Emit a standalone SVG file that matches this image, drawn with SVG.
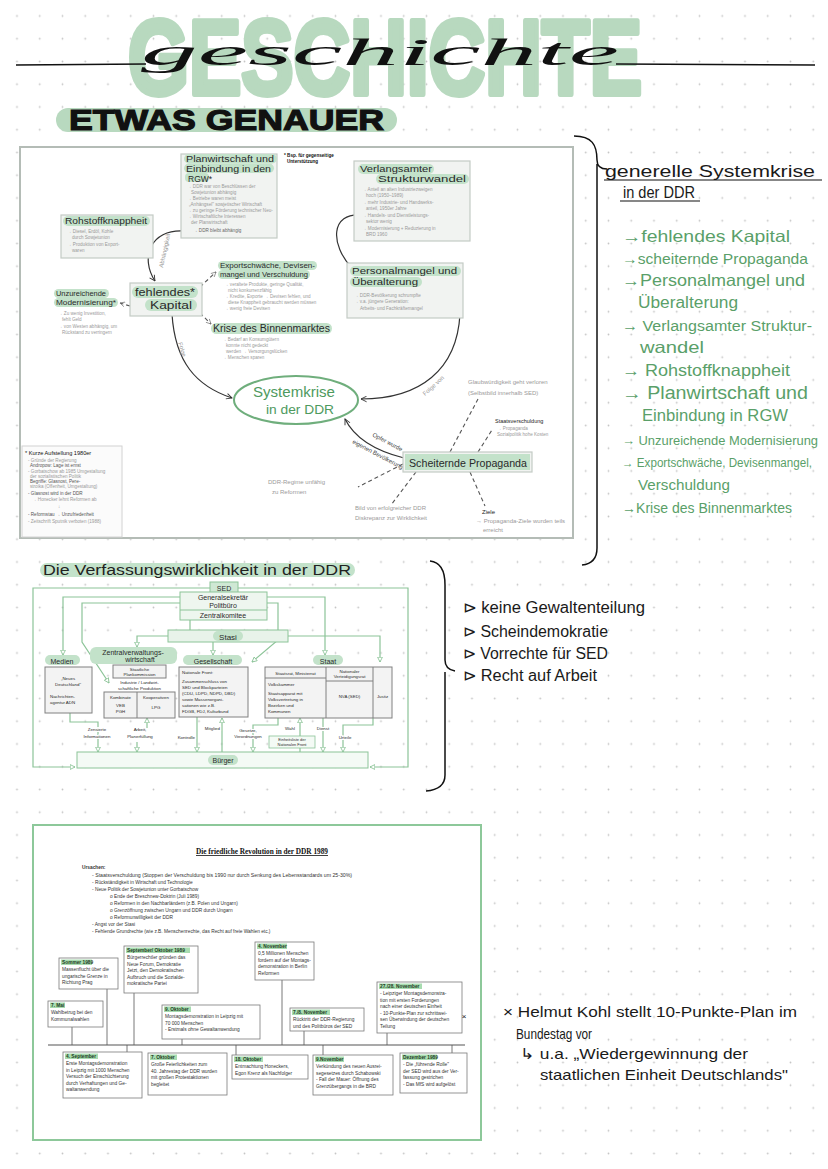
<svg xmlns="http://www.w3.org/2000/svg" width="828" height="1169" viewBox="0 0 828 1169">
<defs>
<pattern id="dots" width="22.75" height="22.75" patternUnits="userSpaceOnUse" x="5.6" y="4.6"><circle cx="11.4" cy="11.4" r="0.9" fill="#c4c4c4"/></pattern>
<marker id="chev" viewBox="0 0 10 10" refX="9" refY="5" markerWidth="7" markerHeight="7" orient="auto" markerUnits="userSpaceOnUse"><path d="M1,1 L9,5 L1,9" fill="none" stroke="#333" stroke-width="1.3"/></marker>
<marker id="chevg" viewBox="0 0 10 10" refX="9" refY="5" markerWidth="6" markerHeight="6" orient="auto" markerUnits="userSpaceOnUse"><path d="M1,1 L9,5 L1,9" fill="none" stroke="#777" stroke-width="1.2"/></marker>
<marker id="tri" viewBox="0 0 10 10" refX="9" refY="5" markerWidth="6" markerHeight="6" orient="auto" markerUnits="userSpaceOnUse"><path d="M1,1 L9,5 L1,9 Z" fill="#fff" stroke="#7fbd8c" stroke-width="1.3"/></marker>
</defs>
<style>
.gl{font-family:"Liberation Sans",Arial,sans-serif;fill:#5a9f69}
.bl{font-family:"Liberation Sans",Arial,sans-serif;fill:#1a1a1a;font-size:16px}
.hl{fill:#c3e2ca}
.nbox{fill:#f1f3f1;stroke:#c4cbc5;stroke-width:1.2}
.ttl{font-family:"Liberation Sans",Arial,sans-serif;fill:#2a2a2a;font-size:9.5px}
.sm{font-family:"Liberation Sans",Arial,sans-serif;fill:#9a9a9a;font-size:4.6px}
.lbl{font-family:"Liberation Sans",Arial,sans-serif;fill:#9a9a9a;font-size:6px}
.cur{fill:none;stroke:#333;stroke-width:1.2}
.dash{fill:none;stroke:#555;stroke-width:1.1;stroke-dasharray:4 3}
.gline{fill:none;stroke:#8cc498;stroke-width:1.2}
.mbox{fill:#f3f3f3;stroke:#808080;stroke-width:1}
.mt{font-family:"Liberation Sans",Arial,sans-serif;fill:#2a2a2a;font-size:4.4px}
.mlab{font-family:"Liberation Sans",Arial,sans-serif;fill:#2a2a2a;font-size:7px;text-anchor:middle}
.halo{paint-order:stroke;stroke:#fff;stroke-width:2}
.tbox{fill:#fff;stroke:#7a7a7a;stroke-width:0.8}
.th{font-family:"Liberation Sans",Arial,sans-serif;font-weight:bold;fill:#1e3d24;font-size:4.8px}
.thl{fill:#a8dcb0}
.tt{font-family:"Liberation Sans",Arial,sans-serif;fill:#333;font-size:4.8px}
.tick{stroke:#555;stroke-width:0.8}
</style>
<rect width="828" height="1169" fill="#fff"/>
<rect width="828" height="1169" fill="url(#dots)"/>

<!-- Title -->
<g id="title">
<text x="128" y="94" font-family="Liberation Sans, Arial, sans-serif" font-weight="bold" font-size="106" textLength="514" lengthAdjust="spacingAndGlyphs" fill="#b8d9bf" stroke="#b8d9bf" stroke-width="6" stroke-linejoin="round">GESCHICHTE</text>
<line x1="16" y1="65" x2="146" y2="64" stroke="#111" stroke-width="1.3"/>
<line x1="616" y1="64" x2="815" y2="65" stroke="#111" stroke-width="1.3"/>
<text x="141" y="65" font-family="Liberation Serif, serif" font-style="italic" font-size="38" textLength="478" lengthAdjust="spacingAndGlyphs" fill="#111">geschichte</text>
<rect x="56" y="108" width="341" height="24" rx="12" fill="#b8d9bf"/>
<text x="69" y="130" font-family="Liberation Sans, Arial, sans-serif" font-weight="bold" font-size="30" textLength="315" lengthAdjust="spacingAndGlyphs" fill="#111" stroke="#111" stroke-width="1.2">ETWAS GENAUER</text>
</g>

<!-- Top diagram frame -->
<rect id="frame-top" x="20" y="147" width="553" height="391" fill="#fff" stroke="#b4bcb6" stroke-width="2"/>

<g id="connectors-top">
<path class="cur" d="M184,231 C150,229 140,258 155,281" marker-end="url(#chev)"/>
<circle cx="184" cy="231" r="1.8" fill="#222"/>
<text class="lbl" transform="translate(163,268) rotate(-78)">Abhängigkeit</text>
<path class="cur" d="M172,314 C175,362 196,386 232,398" marker-end="url(#chev)"/>
<circle cx="172" cy="314" r="1.8" fill="#222"/>
<text class="lbl" transform="translate(178,343) rotate(72)">Folge</text>
<path class="cur" d="M352,268 C330,245 330,212 362,215" marker-end="url(#chev)"/>
<circle cx="352" cy="268" r="1.8" fill="#222"/>
<path class="cur" d="M460,314 C457,370 420,399 361,399" marker-end="url(#chev)"/>
<circle cx="460" cy="314" r="1.8" fill="#222"/>
<text class="lbl" transform="translate(425,396) rotate(-42)">Folge von</text>
<path class="cur" d="M404,458 C380,452 356,441 345,419" marker-end="url(#chev)"/>
<text class="lbl" style="fill:#444" transform="translate(372,436) rotate(28)">Opfer wurde</text>
<text class="lbl" style="fill:#444" transform="translate(352,443) rotate(28)">eigenen Bevölkerung</text>
<path class="dash" d="M200,287 L216,272" marker-end="url(#chevg)"/>
<path class="dash" d="M200,313 L211,324" marker-end="url(#chevg)"/>
<path class="dash" d="M130,306 L120,303" marker-end="url(#chevg)"/>
<path class="dash" d="M450,452 L478,399"/>
<path class="dash" d="M478,452 L492,430"/>
<path class="dash" d="M403,464 L358,487"/>
<path class="dash" d="M416,472 L391,505"/>
<path class="dash" d="M470,472 L485,506"/>
</g>

<g id="node-planwirtschaft">
<rect class="nbox" x="181" y="154" width="96" height="84"/>
<rect class="hl" x="184" y="154" width="93" height="9.5" rx="4.75"/>
<rect class="hl" x="184" y="163.5" width="90" height="9.5" rx="4.75"/>
<rect class="hl" x="185" y="173" width="24" height="9" rx="4"/>
<text class="ttl" x="186" y="161.5" style="font-size:8.5px" textLength="88" lengthAdjust="spacingAndGlyphs">Planwirtschaft und</text>
<text class="ttl" x="186" y="171.5" style="font-size:8.5px" textLength="85" lengthAdjust="spacingAndGlyphs">Einbindung in den</text>
<text class="ttl" x="188" y="181.5" style="font-size:8.5px">RGW*</text>
<text class="sm" x="187" y="188">→ DDR war von Beschlüssen der</text>
<text class="sm" x="191" y="194">Sowjetunion abhängig</text>
<text class="sm" x="187" y="200">→ Betriebe waren meist</text>
<text class="sm" x="189" y="206">„Anhängsel" sowjetischer Wirtschaft</text>
<text class="sm" x="187" y="212">→ zu geringe Förderung technischer Neu-</text>
<text class="sm" x="187" y="218">→ Wirtschaftliche Interessen</text>
<text class="sm" x="191" y="224">der Planwirtschaft</text>
<text class="sm" x="193" y="231.5" style="fill:#666">→ DDR bleibt abhängig</text>
</g>
<g id="note-bsp">
<text x="284" y="157" font-family="Liberation Sans, Arial, sans-serif" font-size="4.6" font-weight="bold" fill="#111">* Bsp. für gegenseitige</text>
<text x="287" y="163" font-family="Liberation Sans, Arial, sans-serif" font-size="4.6" font-weight="bold" fill="#111">Unterstützung</text>
</g>

<g id="node-rohstoff">
<rect class="nbox" x="61" y="215" width="92" height="43"/>
<rect class="hl" x="63" y="216" width="87" height="10" rx="5"/>
<text class="ttl" x="65" y="224" textLength="82" lengthAdjust="spacingAndGlyphs">Rohstoffknappheit</text>
<text class="sm" x="67" y="233">→ Diesel, Erdöl, Kohle</text>
<text class="sm" x="72" y="239">durch Sowjetunion</text>
<text class="sm" x="67" y="246">→ Produktion von Export-</text>
<text class="sm" x="72" y="252">waren</text>
</g>

<g id="node-kapital">
<rect class="nbox" x="130" y="283" width="72" height="33"/>
<rect class="hl" x="132" y="286" width="66" height="12" rx="6"/>
<rect class="hl" x="145" y="299" width="52" height="12" rx="6"/>
<text class="ttl" x="135" y="296" style="font-size:11px" textLength="60" lengthAdjust="spacingAndGlyphs">fehlendes*</text>
<text class="ttl" x="150" y="309" style="font-size:11px" textLength="42" lengthAdjust="spacingAndGlyphs">Kapital</text>
</g>

<g id="node-modernisierung">
<rect class="hl" x="54" y="289" width="55" height="9" rx="4.5"/>
<rect class="hl" x="54" y="298" width="64" height="9" rx="4.5"/>
<text class="ttl" x="56" y="296" style="font-size:7.5px" textLength="50" lengthAdjust="spacingAndGlyphs">Unzureichende</text>
<text class="ttl" x="56" y="305" style="font-size:7.5px" textLength="60" lengthAdjust="spacingAndGlyphs">Modernisierung*</text>
<text class="sm" x="58" y="315">→ Zu wenig Investition,</text>
<text class="sm" x="62" y="321">fehlt Geld</text>
<text class="sm" x="58" y="328">→ von Westen abhängig, um</text>
<text class="sm" x="62" y="334">Rückstand zu verringern</text>
</g>

<g id="node-export">
<rect class="hl" x="218" y="261" width="99" height="9" rx="4.5"/>
<rect class="hl" x="218" y="270" width="92" height="9" rx="4.5"/>
<text class="ttl" x="220" y="268" style="font-size:8px" textLength="95" lengthAdjust="spacingAndGlyphs">Exportschwäche, Devisen-</text>
<text class="ttl" x="220" y="277" style="font-size:8px" textLength="88" lengthAdjust="spacingAndGlyphs">mangel und Verschuldung</text>
<text class="sm" x="224" y="286">→ veraltete Produkte, geringe Qualität,</text>
<text class="sm" x="228" y="292">nicht konkurrenzfähig</text>
<text class="sm" x="224" y="298">→ Kredite, Exporte → Devisen fehlen, und</text>
<text class="sm" x="228" y="304">diese Knappheit gebraucht werden müssen</text>
<text class="sm" x="224" y="310">→ wenig freie Devisen</text>
</g>

<g id="node-binnenmarkt">
<rect class="hl" x="211" y="323" width="121" height="11" rx="5.5"/>
<text class="ttl" x="213" y="332" style="font-size:10px" textLength="117" lengthAdjust="spacingAndGlyphs">Krise des Binnenmarktes</text>
<text class="sm" x="222" y="341">→ Bedarf an Konsumgütern</text>
<text class="sm" x="226" y="347">konnte nicht gedeckt</text>
<text class="sm" x="226" y="353">werden → Versorgungslücken</text>
<text class="sm" x="222" y="359">→ Menschen sparen</text>
</g>

<g id="node-strukturwandel">
<rect class="nbox" x="354" y="161" width="116" height="80"/>
<rect class="hl" x="358" y="164" width="76" height="10" rx="5"/>
<rect class="hl" x="376" y="174" width="93" height="10" rx="5"/>
<text class="ttl" x="360" y="172" style="font-size:9px" textLength="72" lengthAdjust="spacingAndGlyphs">Verlangsamter</text>
<text class="ttl" x="378" y="182" style="font-size:9px" textLength="88" lengthAdjust="spacingAndGlyphs">Strukturwandel</text>
<text class="sm" x="362" y="191">→ Anteil an alten Industriezweigen</text>
<text class="sm" x="366" y="197">hoch (1950–1989)</text>
<text class="sm" x="362" y="204">→ mehr Industrie- und Handwerks-</text>
<text class="sm" x="366" y="210">anteil, 1950er Jahre</text>
<text class="sm" x="362" y="217">→ Handels- und Dienstleistungs-</text>
<text class="sm" x="366" y="223">sektor wenig</text>
<text class="sm" x="362" y="230">→ Modernisierung + Reduzierung in</text>
<text class="sm" x="366" y="236">BRD 1960</text>
</g>

<g id="node-personal">
<rect class="nbox" x="347" y="263" width="116" height="55"/>
<rect class="hl" x="350" y="266" width="111" height="10" rx="5"/>
<rect class="hl" x="350" y="277" width="72" height="10" rx="5"/>
<text class="ttl" x="352" y="274" style="font-size:9px" textLength="105" lengthAdjust="spacingAndGlyphs">Personalmangel und</text>
<text class="ttl" x="352" y="285" style="font-size:9px" textLength="66" lengthAdjust="spacingAndGlyphs">Überalterung</text>
<text class="sm" x="354" y="297">→ DDR-Bevölkerung schrumpfte</text>
<text class="sm" x="354" y="303">→ v.a. jüngere Generation:</text>
<text class="sm" x="360" y="310">Arbeits- und Fachkräftemangel</text>
</g>

<g id="node-systemkrise">
<ellipse cx="296" cy="400" rx="62" ry="24" fill="#fff" stroke="#6fae7c" stroke-width="2"/>
<text x="294" y="397" text-anchor="middle" font-family="Liberation Sans, Arial, sans-serif" font-size="15" fill="#4e9a5e" textLength="82" lengthAdjust="spacingAndGlyphs">Systemkrise</text>
<text x="300" y="414" text-anchor="middle" font-family="Liberation Sans, Arial, sans-serif" font-size="13" fill="#4e9a5e" textLength="68" lengthAdjust="spacingAndGlyphs">in der DDR</text>
</g>

<g id="node-propaganda">
<rect class="nbox" x="403" y="452" width="129" height="20"/>
<rect class="hl" x="405" y="454" width="125" height="16"/>
<text class="ttl" x="409" y="466.5" style="font-size:11px" textLength="118" lengthAdjust="spacingAndGlyphs">Scheiternde Propaganda</text>
</g>

<g id="labels-propaganda">
<text class="lbl" x="468" y="384">Glaubwürdigkeit geht verloren</text>
<text class="lbl" x="468" y="395">(Selbstbild innerhalb SED)</text>
<text x="495" y="423" font-family="Liberation Sans, Arial, sans-serif" font-size="5.5" fill="#222">Staatsverschuldung</text>
<text class="sm" x="497" y="430">→ Propaganda</text>
<text class="sm" x="497" y="436">Sozialpolitik hohe Kosten</text>
<text class="lbl" x="268" y="484">DDR-Regime unfähig</text>
<text class="lbl" x="272" y="494">zu Reformen</text>
<text class="lbl" x="355" y="510">Bild von erfolgreicher DDR</text>
<text class="lbl" x="355" y="520">Diskrepanz zur Wirklichkeit</text>
<text x="482" y="514" font-family="Liberation Sans, Arial, sans-serif" font-size="6" fill="#222">Ziele</text>
<text class="lbl" x="476" y="523">→ Propaganda-Ziele wurden teils</text>
<text class="lbl" x="483" y="532">erreicht</text>
</g>

<g id="node-aufstellung">
<rect x="22" y="446" width="100" height="91" fill="#fbfbfb" stroke="#d2d2d2" stroke-width="1"/>
<text x="25" y="455" font-family="Liberation Sans, Arial, sans-serif" font-size="5.6" fill="#111">* Kurze Aufstellung 1980er</text>
<text class="sm" x="28" y="462">- Gründe der Regierung</text>
<text class="sm" x="30" y="467" style="fill:#555">Andropow: Lage ist ernst</text>
<text class="sm" x="28" y="473">- Gorbatschow ab 1985 Umgestaltung</text>
<text class="sm" x="30" y="478">der sozialistischen Politik</text>
<text class="sm" x="30" y="483" style="fill:#555">Begriffe: Glasnost, Pere-</text>
<text class="sm" x="30" y="488">stroika (Offenheit, Umgestaltung)</text>
<text class="sm" x="28" y="495" style="fill:#555">- Glasnost wird in der DDR</text>
<text class="sm" x="32" y="501">→ Honecker lehnt Reformen ab</text>
<text class="sm" x="58" y="508">↓</text>
<text class="sm" x="28" y="516" style="fill:#555">- Reformstau → Unzufriedenheit</text>
<text class="sm" x="28" y="523">- Zeitschrift Sputnik verboten (1988)</text>
</g>

<!-- Right side list -->
<path id="brace-top" d="M574,136 C592,136 597,145 597,160 C597,166 600,169 607,169 M597,164 L597,548 C597,558 592,564 582,565" fill="none" stroke="#111" stroke-width="1.5"/>
<g id="list-systemkrise">
<text class="bl" x="605" y="177" textLength="210" lengthAdjust="spacingAndGlyphs">generelle Systemkrise</text>
<line x1="604" y1="180" x2="822" y2="180" stroke="#111" stroke-width="1.2"/>
<text class="bl" x="623" y="198" textLength="72" lengthAdjust="spacingAndGlyphs">in der DDR</text>
<line x1="620" y1="201" x2="700" y2="201" stroke="#111" stroke-width="1.2"/>
<text class="gl" x="622" y="242" font-size="16.5" textLength="168" lengthAdjust="spacingAndGlyphs">→fehlendes Kapital</text>
<text class="gl" x="622" y="264" font-size="15" textLength="186" lengthAdjust="spacingAndGlyphs">→scheiternde Propaganda</text>
<text class="gl" x="622" y="286" font-size="16.5" textLength="183" lengthAdjust="spacingAndGlyphs">→Personalmangel und</text>
<text class="gl" x="638" y="308" font-size="16" textLength="100" lengthAdjust="spacingAndGlyphs">Überalterung</text>
<text class="gl" x="622" y="331" font-size="15.5" textLength="190" lengthAdjust="spacingAndGlyphs">→ Verlangsamter Struktur-</text>
<text class="gl" x="640" y="353" font-size="16.5" textLength="64" lengthAdjust="spacingAndGlyphs">wandel</text>
<text class="gl" x="622" y="376" font-size="16.5" textLength="168" lengthAdjust="spacingAndGlyphs">→ Rohstoffknappheit</text>
<text class="gl" x="622" y="399" font-size="17.5" textLength="186" lengthAdjust="spacingAndGlyphs">→ Planwirtschaft und</text>
<text class="gl" x="642" y="421" font-size="16" textLength="146" lengthAdjust="spacingAndGlyphs">Einbindung in RGW</text>
<text class="gl" x="622" y="445" font-size="13" textLength="196" lengthAdjust="spacingAndGlyphs">→ Unzureichende Modernisierung</text>
<text class="gl" x="622" y="467" font-size="12" textLength="190" lengthAdjust="spacingAndGlyphs">→ Exportschwäche, Devisenmangel,</text>
<text class="gl" x="638" y="490" font-size="15" textLength="92" lengthAdjust="spacingAndGlyphs">Verschuldung</text>
<text class="gl" x="622" y="513" font-size="14.5" textLength="170" lengthAdjust="spacingAndGlyphs">→Krise des Binnenmarktes</text>
</g>

<!-- Middle diagram -->
<g id="title-verfassung">
<rect class="hl" x="40" y="563" width="315" height="14" rx="7"/>
<text x="43" y="575" font-family="Liberation Sans, Arial, sans-serif" font-size="14" fill="#222" textLength="308" lengthAdjust="spacingAndGlyphs">Die Verfassungswirklichkeit in der DDR</text>
</g>

<g id="connectors-middle">
<path class="gline" d="M210,588 L33,588 L33,767 L75,767" marker-end="url(#tri)"/>
<path class="gline" d="M238,588 L408,588 L408,767 L370,767" marker-end="url(#tri)"/>
<path class="gline" d="M180,597 L63,597 L63,655" marker-end="url(#tri)"/>
<path class="gline" d="M180,603 L82,603 L82,642 L109,683" marker-end="url(#tri)"/>
<path class="gline" d="M267,597 L325,597 L325,655" marker-end="url(#tri)"/>
<path class="gline" d="M267,603 L278,603 L278,640 L252,662" marker-end="url(#tri)"/>
<path class="gline" d="M190,620 L190,630"/>
<path class="gline" d="M168,636 L137,636 L137,647" marker-end="url(#tri)"/>
<path class="gline" d="M213,642 L213,655" marker-end="url(#tri)"/>
<path class="gline" d="M288,636 L380,636 L380,662" marker-end="url(#tri)"/>
<path class="gline" d="M70,713 L70,722 L98,722 L98,752" marker-end="url(#tri)"/>
<path class="gline" d="M147,728 L147,718" marker-end="url(#tri)"/>
<path class="gline" d="M137,742 L137,752" marker-end="url(#tri)"/>
<path class="gline" d="M197,717 L197,752" marker-end="url(#tri)"/>
<path class="gline" d="M222,752 L222,718" marker-end="url(#tri)"/>
<path class="gline" d="M278,718 L278,725 L253,725 L253,752" marker-end="url(#tri)"/>
<path class="gline" d="M300,736 L300,718" marker-end="url(#tri)"/>
<path class="gline" d="M300,748 L300,752"/>
<path class="gline" d="M323,718 L323,752" marker-end="url(#tri)"/>
<path class="gline" d="M373,718 L373,725 L343,725 L343,752" marker-end="url(#tri)"/>
</g>

<g id="node-sed">
<rect x="210" y="582" width="28" height="11" fill="#cfe8d4" stroke="#8cc498"/>
<text class="mlab" x="224" y="590.5">SED</text>
</g>
<g id="node-politbuero">
<rect x="180" y="592" width="87" height="28" fill="#eef6ef" stroke="#8cc498"/>
<line x1="180" y1="610" x2="267" y2="610" stroke="#8cc498"/>
<text class="mlab" x="223" y="600">Generalsekretär</text>
<text class="mlab" x="223" y="607.5">Politbüro</text>
<text class="mlab" x="223" y="617.5">Zentralkomitee</text>
</g>
<g id="node-stasi">
<rect x="168" y="630" width="120" height="12" fill="#e8f3ea" stroke="#8cc498"/>
<rect class="hl" x="213" y="631" width="30" height="10" rx="5"/>
<text class="mlab" x="228" y="639.5" style="font-size:8px">Stasi</text>
</g>
<g id="node-medien">
<rect class="hl" x="45" y="655" width="35" height="10" rx="5"/>
<text class="mlab" x="62" y="663.5">Medien</text>
<rect class="mbox" x="45" y="667" width="47" height="46"/>
<text class="mt" x="68" y="680" text-anchor="middle">„Neues</text>
<text class="mt" x="68" y="686" text-anchor="middle">Deutschland"</text>
<text class="mt" x="50" y="698">Nachrichten-</text>
<text class="mt" x="50" y="704">agentur ADN</text>
</g>
<g id="node-wirtschaft">
<rect class="hl" x="90" y="647" width="87" height="17" rx="6"/>
<text class="mlab" x="133" y="654.5">Zentralverwaltungs-</text>
<text class="mlab" x="140" y="662">wirtschaft</text>
<rect class="mbox" x="113" y="665" width="53" height="13"/>
<text class="mt" x="139.5" y="670.5" text-anchor="middle">Staatliche</text>
<text class="mt" x="139.5" y="676" text-anchor="middle">Plankommission</text>
<text class="mt" x="139.5" y="684" text-anchor="middle">Industrie / Landwirt-</text>
<text class="mt" x="139.5" y="689.5" text-anchor="middle">schaftliche Produktion</text>
<rect class="mbox" x="104" y="692" width="71" height="26"/>
<line x1="137" y1="692" x2="137" y2="718" stroke="#808080"/>
<text class="mt" x="120.5" y="699" text-anchor="middle">Kombinate</text>
<text class="mt" x="120.5" y="707" text-anchor="middle">VEB</text>
<text class="mt" x="120.5" y="713" text-anchor="middle">PGH</text>
<text class="mt" x="156" y="699" text-anchor="middle">Kooperativen</text>
<text class="mt" x="156" y="709" text-anchor="middle">LPG</text>
</g>
<g id="node-gesellschaft">
<rect class="hl" x="183" y="655" width="59" height="10" rx="5"/>
<text class="mlab" x="213" y="663.5">Gesellschaft</text>
<rect class="mbox" x="179" y="667" width="69" height="50"/>
<text class="mt" x="182" y="674">Nationale Front:</text>
<text class="mt" x="182" y="683">Zusammenschluss von</text>
<text class="mt" x="182" y="689">SED und Blockparteien</text>
<text class="mt" x="182" y="695">(CDU, LDPD, NDPD, DBD)</text>
<text class="mt" x="182" y="701">sowie Massenorgani-</text>
<text class="mt" x="182" y="707">sationen wie z.B.</text>
<text class="mt" x="182" y="713">FDGB, FDJ, Kulturbund</text>
</g>
<g id="node-staat">
<rect class="hl" x="313" y="655" width="30" height="10" rx="5"/>
<text class="mlab" x="328" y="663.5">Staat</text>
<rect class="mbox" x="265" y="667" width="127" height="51"/>
<line x1="326" y1="667" x2="326" y2="718" stroke="#808080"/>
<line x1="373" y1="667" x2="373" y2="718" stroke="#808080"/>
<line x1="265" y1="678" x2="326" y2="678" stroke="#808080"/>
<line x1="326" y1="681" x2="373" y2="681" stroke="#808080"/>
<text class="mt" x="295.5" y="675" text-anchor="middle">Staatsrat, Ministerrat</text>
<text class="mt" x="349.5" y="672.5" text-anchor="middle">Nationaler</text>
<text class="mt" x="349.5" y="678" text-anchor="middle">Verteidigungsrat</text>
<text class="mt" x="268" y="686">Volkskammer</text>
<text class="mt" x="268" y="695">Staatsapparat mit</text>
<text class="mt" x="268" y="701">Volksvertretung in</text>
<text class="mt" x="268" y="707">Bezirken und</text>
<text class="mt" x="268" y="713">Kommunen</text>
<text class="mt" x="349.5" y="698" text-anchor="middle">NVA (SED)</text>
<text class="mt" x="382.5" y="698" text-anchor="middle">Justiz</text>
</g>
<g id="node-buerger">
<rect x="77" y="752" width="291" height="16" fill="#f4faf5" stroke="#8cc498"/>
<rect class="hl" x="208" y="755" width="30" height="10" rx="5"/>
<text class="mlab" x="223" y="763">Bürger</text>
</g>
<g id="labels-middle">
<text class="mt halo" x="97" y="731" text-anchor="middle">Zensierte</text>
<text class="mt halo" x="97" y="738" text-anchor="middle">Informationen</text>
<text class="mt halo" x="140" y="731" text-anchor="middle">Arbeit,</text>
<text class="mt halo" x="140" y="738" text-anchor="middle">Planerfüllung</text>
<text class="mt halo" x="195" y="739" text-anchor="end">Kontrolle</text>
<text class="mt halo" x="220" y="730" text-anchor="end">Mitglied</text>
<text class="mt halo" x="248" y="732" text-anchor="middle">Gesetze,</text>
<text class="mt halo" x="248" y="738" text-anchor="middle">Verordnungen</text>
<text class="mt halo" x="290" y="730" text-anchor="middle">Wahl</text>
<rect x="269" y="736" width="46" height="12" fill="#f4faf5" stroke="#8cc498" stroke-width="0.8"/>
<text class="mt" x="292" y="741" text-anchor="middle" style="font-size:3.9px">Einheitsliste der</text>
<text class="mt" x="292" y="746" text-anchor="middle" style="font-size:3.9px">Nationalen Front</text>
<text class="mt halo" x="323" y="730" text-anchor="middle">Dienst</text>
<text class="mt halo" x="345" y="739" text-anchor="middle">Urteile</text>
</g>

<path id="brace-middle" d="M430,561 C440,562 445,570 445,585 L445,660 C445,667 449,670 455,671 M445,672 L445,775 C445,785 438,790 426,791" fill="none" stroke="#111" stroke-width="1.5"/>
<g id="list-verfassung">
<text class="bl" x="463" y="613" textLength="182" lengthAdjust="spacingAndGlyphs">⊳ keine Gewaltenteilung</text>
<text class="bl" x="463" y="637" textLength="145" lengthAdjust="spacingAndGlyphs">⊳ Scheindemokratie</text>
<text class="bl" x="463" y="659" textLength="145" lengthAdjust="spacingAndGlyphs">⊳ Vorrechte für SED</text>
<text class="bl" x="463" y="681" textLength="134" lengthAdjust="spacingAndGlyphs">⊳ Recht auf Arbeit</text>
</g>

<!-- Bottom: timeline -->
<rect id="frame-bottom" x="33" y="825" width="448" height="315" fill="#fff" stroke="#8dc89a" stroke-width="2"/>
<g id="revolution-header">
<text x="262" y="854" text-anchor="middle" font-family="Liberation Serif, serif" font-weight="bold" font-size="8" text-decoration="underline" fill="#111" textLength="132" lengthAdjust="spacingAndGlyphs">Die friedliche Revolution in der DDR 1989</text>
<text class="tt" x="82" y="869" style="font-weight:bold">Ursachen:</text>
<text class="tt" x="92" y="877" textLength="260" lengthAdjust="spacingAndGlyphs">- Staatsverschuldung (Stoppen der Verschuldung bis 1990 nur durch Senkung des Lebensstandards um 25-30%)</text>
<text class="tt" x="92" y="884">- Rückständigkeit in Wirtschaft und Technologie</text>
<text class="tt" x="92" y="891">- Neue Politik der Sowjetunion unter Gorbatschow</text>
<text class="tt" x="110" y="898">o Ende der Breschnew-Doktrin (Juli 1989)</text>
<text class="tt" x="110" y="905">o Reformen in den Nachbarländern (z.B. Polen und Ungarn)</text>
<text class="tt" x="110" y="912">o Grenzöffnung zwischen Ungarn und DDR durch Ungarn</text>
<text class="tt" x="110" y="919">o Reformunwilligkeit der DDR</text>
<text class="tt" x="92" y="926">- Angst vor der Stasi</text>
<text class="tt" x="92" y="933">- Fehlende Grundrechte (wie z.B. Menschenrechte, das Recht auf freie Wahlen etc.)</text>
</g>

<g id="timeline-connectors">
<line class="tick" x1="48" y1="1045" x2="465" y2="1045" style="stroke-width:1.1"/>
<line class="tick" x1="72" y1="1027" x2="72" y2="1045"/>
<line class="tick" x1="107" y1="989" x2="107" y2="1045"/>
<line class="tick" x1="134" y1="993" x2="134" y2="1045"/>
<line class="tick" x1="182" y1="1039" x2="182" y2="1045"/>
<line class="tick" x1="282" y1="980" x2="282" y2="1045"/>
<line class="tick" x1="304" y1="1031" x2="304" y2="1045"/>
<line class="tick" x1="387" y1="1033" x2="387" y2="1045"/>
<line class="tick" x1="127" y1="1045" x2="127" y2="1052"/>
<line class="tick" x1="236" y1="1045" x2="236" y2="1055"/>
<line class="tick" x1="323" y1="1045" x2="323" y2="1055"/>
<line class="tick" x1="452" y1="1045" x2="452" y2="1053"/>
</g>

<g id="ev-sommer">
<rect class="tbox" x="59" y="958" width="59" height="31"/>
<rect class="thl" x="61" y="959.5" width="31" height="5.5"/>
<text class="th" x="62" y="964">Sommer 1989</text>
<text class="tt" x="62" y="971">Massenflucht über die</text>
<text class="tt" x="62" y="977.5">ungarische Grenze in</text>
<text class="tt" x="62" y="984">Richtung Prag</text>
</g>
<g id="ev-mai">
<rect class="tbox" x="48" y="1001" width="55" height="26"/>
<rect class="thl" x="50" y="1002.5" width="15" height="5.5"/>
<text class="th" x="51" y="1007">7. Mai</text>
<text class="tt" x="51" y="1014">Wahlbetrug bei den</text>
<text class="tt" x="51" y="1020.5">Kommunalwahlen</text>
</g>
<g id="ev-sept-okt">
<rect class="tbox" x="124" y="946" width="74" height="47"/>
<rect class="thl" x="126" y="947.5" width="64" height="5.5"/>
<text class="th" x="127" y="952">September/ Oktober 1989</text>
<text class="tt" x="127" y="959">Bürgerrechtler gründen das</text>
<text class="tt" x="127" y="965.5">Neue Forum, Demokratie</text>
<text class="tt" x="127" y="972">Jetzt, den Demokratischen</text>
<text class="tt" x="127" y="978.5">Aufbruch und die Sozialde-</text>
<text class="tt" x="127" y="985">mokratische Partei</text>
</g>
<g id="ev-9okt">
<rect class="tbox" x="162" y="1005" width="98" height="34"/>
<rect class="thl" x="164" y="1006.5" width="27" height="5.5"/>
<text class="th" x="165" y="1011">9. Oktober</text>
<text class="tt" x="165" y="1018">Montagsdemonstration in Leipzig mit</text>
<text class="tt" x="165" y="1024.5">70 000 Menschen</text>
<text class="tt" x="165" y="1031">- Erstmals ohne Gewaltanwendung</text>
</g>
<g id="ev-4nov">
<rect class="tbox" x="255" y="942" width="59" height="38"/>
<rect class="thl" x="257" y="943.5" width="30" height="5.5"/>
<text class="th" x="258" y="948">4. November</text>
<text class="tt" x="258" y="955">0,5 Millionen Menschen</text>
<text class="tt" x="258" y="961.5">fordern auf der Montags-</text>
<text class="tt" x="258" y="968">demonstration in Berlin</text>
<text class="tt" x="258" y="974.5">Reformen</text>
</g>
<g id="ev-78nov">
<rect class="tbox" x="290" y="1008" width="74" height="23"/>
<rect class="thl" x="292" y="1009.5" width="38" height="5.5"/>
<text class="th" x="293" y="1014">7./8. November</text>
<text class="tt" x="293" y="1021">Rücktritt der DDR-Regierung</text>
<text class="tt" x="293" y="1027.5">und des Politbüros der SED</text>
</g>
<g id="ev-2728nov">
<rect class="tbox" x="377" y="982" width="85" height="51"/>
<rect class="thl" x="379" y="983.5" width="43" height="5.5"/>
<text class="th" x="380" y="988">27./28. November</text>
<text class="tt" x="380" y="995">- Leipziger Montagsdemonstra-</text>
<text class="tt" x="380" y="1001.5">tion mit ersten Forderungen</text>
<text class="tt" x="380" y="1008">nach einer deutschen Einheit</text>
<text class="tt" x="380" y="1014.5">- 10-Punkte-Plan zur schrittwei-</text>
<text class="tt" x="380" y="1021">sen Überwindung der deutschen</text>
<text class="tt" x="380" y="1027.5">Teilung</text>
<text x="464" y="1019" text-anchor="middle" font-family="Liberation Sans, Arial, sans-serif" font-size="8" fill="#111">×</text>
</g>
<g id="ev-4sept">
<rect class="tbox" x="63" y="1052" width="79" height="46"/>
<rect class="thl" x="65" y="1053.5" width="33" height="5.5"/>
<text class="th" x="66" y="1058">4. September</text>
<text class="tt" x="66" y="1065">Erste Montagsdemonstration</text>
<text class="tt" x="66" y="1071.5">in Leipzig mit 1000 Menschen</text>
<text class="tt" x="66" y="1078">Versuch der Einschüchterung</text>
<text class="tt" x="66" y="1084.5">durch Verhaftungen und Ge-</text>
<text class="tt" x="66" y="1091">waltanwendung</text>
</g>
<g id="ev-7okt">
<rect class="tbox" x="148" y="1053" width="79" height="42"/>
<rect class="thl" x="150" y="1054.5" width="27" height="5.5"/>
<text class="th" x="151" y="1059">7. Oktober</text>
<text class="tt" x="151" y="1066">Große Feierlichkeiten zum</text>
<text class="tt" x="151" y="1072.5">40. Jahrestag der DDR wurden</text>
<text class="tt" x="151" y="1079">mit großen Protestaktionen</text>
<text class="tt" x="151" y="1085.5">begleitet</text>
</g>
<g id="ev-18okt">
<rect class="tbox" x="232" y="1055" width="76" height="24"/>
<rect class="thl" x="234" y="1056.5" width="29" height="5.5"/>
<text class="th" x="235" y="1061">18. Oktober</text>
<text class="tt" x="235" y="1068">Entmachtung Honeckers,</text>
<text class="tt" x="235" y="1074.5">Egon Krenz als Nachfolger</text>
</g>
<g id="ev-9nov">
<rect class="tbox" x="313" y="1055" width="80" height="40"/>
<rect class="thl" x="315" y="1056.5" width="29" height="5.5"/>
<text class="th" x="316" y="1061">9.November</text>
<text class="tt" x="316" y="1068">Verkündung des neuen Ausrei-</text>
<text class="tt" x="316" y="1074.5">segesetzes durch Schabowski</text>
<text class="tt" x="316" y="1081">- Fall der Mauer: Öffnung des</text>
<text class="tt" x="316" y="1087.5">Grenzübergangs in die BRD</text>
</g>
<g id="ev-dez">
<rect class="tbox" x="400" y="1053" width="67" height="40"/>
<rect class="thl" x="402" y="1054.5" width="35" height="5.5"/>
<text class="th" x="403" y="1059">Dezember 1989</text>
<text class="tt" x="403" y="1066">- Die „führende Rolle"</text>
<text class="tt" x="403" y="1072.5">der SED wird aus der Ver-</text>
<text class="tt" x="403" y="1079">fassung gestrichen</text>
<text class="tt" x="403" y="1085.5">- Das MfS wird aufgelöst</text>
</g>

<g id="note-kohl">
<text class="bl" x="503" y="1017" style="font-size:15px" textLength="294" lengthAdjust="spacingAndGlyphs">× Helmut Kohl stellt 10-Punkte-Plan im</text>
<text class="bl" x="516" y="1039" style="font-size:15px" textLength="76" lengthAdjust="spacingAndGlyphs">Bundestag vor</text>
<text class="bl" x="520" y="1059" style="font-size:15px" textLength="228" lengthAdjust="spacingAndGlyphs">↳ u.a. „Wiedergewinnung der</text>
<text class="bl" x="540" y="1080" style="font-size:15px" textLength="248" lengthAdjust="spacingAndGlyphs">staatlichen Einheit Deutschlands"</text>
</g>
</svg>
